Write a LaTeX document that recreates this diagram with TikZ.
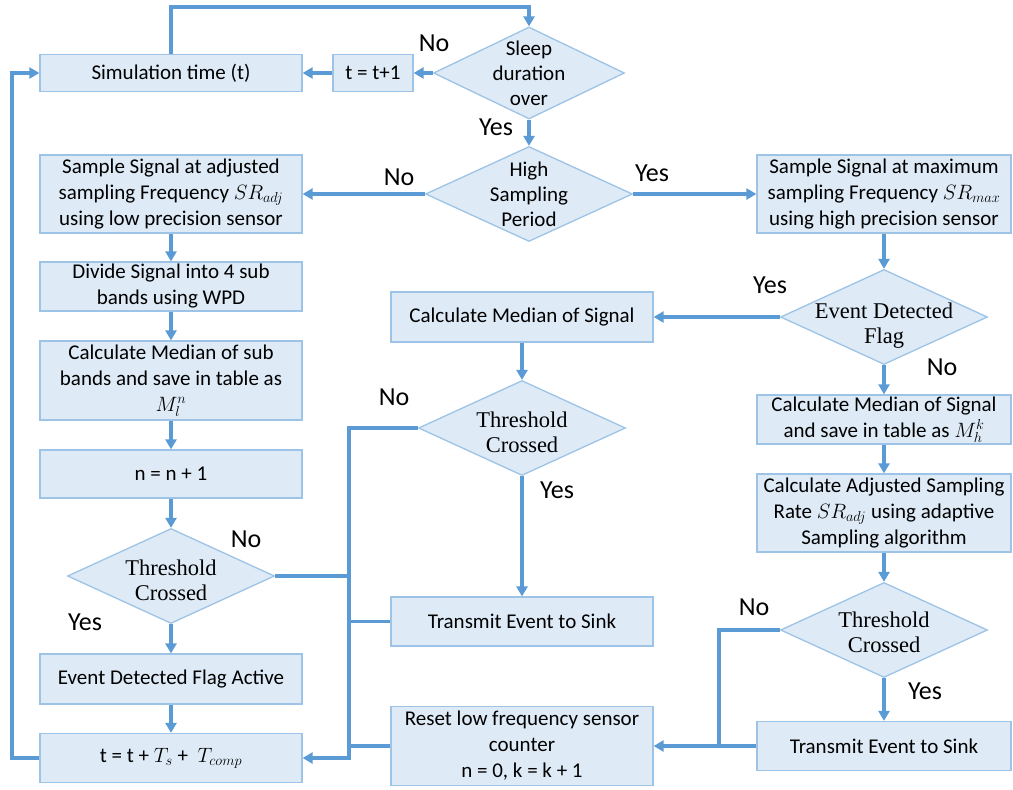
\documentclass[tikz,border=0pt]{standalone}
\usepackage{fontspec}
\setmainfont{Carlito}
\newfontfamily\diaserif{Liberation Serif}
\usetikzlibrary{shapes.geometric,arrows.meta,calc}
\definecolor{flow}{HTML}{5B9BD5}
\definecolor{boxfill}{HTML}{DEEBF7}
\definecolor{boxline}{HTML}{9DC3E6}

\begin{document}
\begin{tikzpicture}[x=1pt,y=-1pt,
  box/.style={draw=boxline, fill=boxfill, line width=1.3pt, inner sep=0pt,
    align=center, font=\fontsize{21}{26}\selectfont},
  dia/.style={diamond, draw=boxline, fill=boxfill, line width=1.3pt, inner sep=0pt,
    minimum width=207pt, minimum height=95pt},
  dtext/.style={align=center, font=\fontsize{21}{25}\selectfont},
  stext/.style={align=center, yshift=-4pt, font=\diaserif\fontsize{22.5}{25}\selectfont},
  yn/.style={inner sep=0pt, font=\fontsize{26}{30}\selectfont},
  wire/.style={draw=flow, line width=3.2pt},
  arr/.style={wire, -{Triangle[length=10pt,width=11pt]}}
]
\useasboundingbox (0,0) rectangle (1013,790);

% ---- left column ----
\node[box, minimum width=262pt, minimum height=37pt] (sim) at (171,73) {Simulation time (t)};
\node[box, minimum width=80pt, minimum height=37pt] (tinc) at (373,73) {t = t+1};
\node[dia, minimum width=191pt, minimum height=92pt,
  label={[dtext]center:{Sleep\\duration\\over}}] (sleep) at (529,73) {};
\node[dia, label={[dtext]center:{High\\Sampling\\Period}}] (high) at (529,194) {};

\node[box, minimum width=262pt, minimum height=78pt] (sadj) at (171,194)
  {Sample Signal at adjusted\\sampling Frequency $SR_{adj}$\\using low precision sensor};
\node[box, minimum width=262pt, minimum height=49pt] (div) at (171,286.5)
  {Divide Signal into 4 sub\\bands using WPD};
\node[box, minimum width=262pt, minimum height=79pt] (medl) at (171,380.5)
  {Calculate Median of sub\\bands and save in table as\\$M_l^n$};
\node[box, minimum width=262pt, minimum height=48pt] (ninc) at (171,474) {n = n + 1};
\node[dia, label={[stext]center:{Threshold\\Crossed}}] (thl) at (171,576) {};
\node[box, minimum width=262pt, minimum height=50pt] (flag) at (171,679) {Event Detected Flag Active};
\node[box, minimum width=262pt, minimum height=49pt] (tupd) at (171,758)
  {t = t + $T_s$ + \ $T_{comp}$};

% ---- middle column ----
\node[box, minimum width=262pt, minimum height=50pt] (medsig) at (522,317) {Calculate Median of Signal};
\node[dia, label={[stext]center:{Threshold\\Crossed}}] (thm) at (522,428) {};
\node[box, minimum width=262pt, minimum height=49pt] (tx1) at (522,621.5) {Transmit Event to Sink};
\node[box, minimum width=262pt, minimum height=79pt] (reset) at (522,746)
  {Reset low frequency sensor\\counter\\n = 0, k = k + 1};

% ---- right column ----
\node[box, minimum width=254pt, minimum height=78pt] (smax) at (884,194)
  {Sample Signal at maximum\\sampling Frequency $SR_{max}$\\using high precision sensor};
\node[dia, label={[stext, yshift=-5pt]center:{Event Detected\\Flag}}] (evf) at (884,317) {};
\node[box, minimum width=254pt, minimum height=49pt] (medh) at (884,419.5)
  {Calculate Median of Signal\\and save in table as $M_h^k$};
\node[box, minimum width=254pt, minimum height=78pt] (adj) at (884,513)
  {Calculate Adjusted Sampling\\Rate $SR_{adj}$ using adaptive\\Sampling algorithm};
\node[dia, label={[stext, yshift=2pt]center:{Threshold\\Crossed}}] (thr) at (884,630) {};
\node[box, minimum width=254pt, minimum height=49pt] (tx2) at (884,746) {Transmit Event to Sink};

% ---- junction points ----
\coordinate (lbus) at (349,758);
\coordinate (rbus) at (719,746);
\coordinate (loop) at (12,758);

% ---- connectors ----
\draw[arr] (sim.north) -- (sim.north |- 0,7) -| (sleep.north);
\draw[arr] (sleep.west) -- (tinc.east);
\draw[arr] (tinc.west) -- (sim.east);
\draw[arr] (sleep.south) -- (high.north);
\draw[arr] (high.west) -- (sadj.east);
\draw[arr] (high.east) -- (smax.west);

\draw[arr] (sadj.south) -- (div.north);
\draw[arr] (div.south) -- (medl.north);
\draw[arr] (medl.south) -- (ninc.north);
\draw[arr] (ninc.south) -- (thl.north);
\draw[arr] (thl.south) -- (flag.north);
\draw[arr] (flag.south) -- (tupd.north);
\draw[arr] (tupd.west) -- (loop) |- (sim.west);

\draw[arr] (smax.south) -- (evf.north);
\draw[arr] (evf.west) -- (medsig.east);
\draw[arr] (evf.south) -- (medh.north);
\draw[arr] (medh.south) -- (adj.north);
\draw[arr] (adj.south) -- (thr.north);
\draw[arr] (thr.south) -- (tx2.north);
\draw[wire] (thr.west) -| (rbus);
\draw[arr] (tx2.west) -- (reset.east);

\draw[arr] (medsig.south) -- (thm.north);
\draw[arr] (thm.south) -- (tx1.north);
\draw[arr] (thm.west) -| (lbus) -- (tupd.east);
\draw[wire] (thl.east) -- (thl.east -| lbus);
\draw[wire] (tx1.west) -- (tx1.west -| lbus);
\draw[wire] (reset.west) -- (reset.west -| lbus);

% ---- branch labels ----
\node[yn] (l1) at (434,43) {No};
\node[yn] (l2) at (496,127) {Yes};
\node[yn] (l3) at (399,177) {No};
\node[yn] (l4) at (652,173) {Yes};
\node[yn] (l5) at (770,285) {Yes};
\node[yn] (l6) at (942,367) {No};
\node[yn] (l7) at (394,397) {No};
\node[yn] (l8) at (557,490) {Yes};
\node[yn] (l9) at (246,539) {No};
\node[yn] (l10) at (85,622) {Yes};
\node[yn] (l11) at (754,607) {No};
\node[yn] (l12) at (925,691) {Yes};
\end{tikzpicture}
\end{document}
